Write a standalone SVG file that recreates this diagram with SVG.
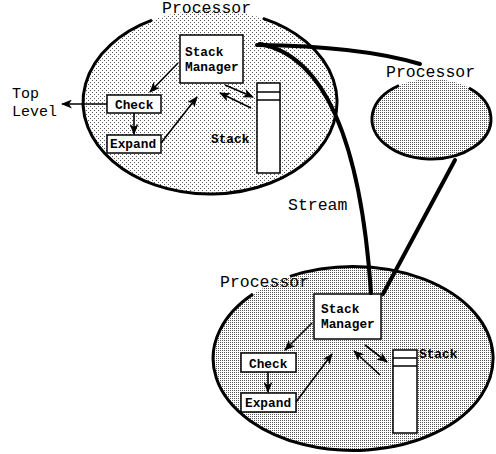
<svg xmlns="http://www.w3.org/2000/svg" width="496" height="454" viewBox="0 0 496 454">
<defs>
<style>
.lbl{font-family:"Liberation Mono","DejaVu Sans Mono",monospace;font-size:16.5px;fill:#000}
.lbs{font-family:"Liberation Mono","DejaVu Sans Mono",monospace;font-size:15px;fill:#000}
.bx{font-family:"Liberation Mono","DejaVu Sans Mono",monospace;font-size:12.8px;font-weight:bold;fill:#000}
.box{fill:#fff;stroke:#000;stroke-width:1.5}
.outline{fill:none;stroke:#000;stroke-width:3}
.arr{fill:none;stroke:#000;stroke-width:1.6;marker-end:url(#ah)}
.thick{fill:none;stroke:#000;stroke-width:4;stroke-linecap:round}
</style>
<pattern id="pLight" width="4" height="4" patternUnits="userSpaceOnUse">
<rect width="4" height="4" fill="#fff"/>
<rect x="0" y="0" width="1" height="1" fill="#555"/>
<rect x="2" y="2" width="1" height="1" fill="#555"/>
</pattern>
<pattern id="pDark" width="2" height="2" patternUnits="userSpaceOnUse">
<rect width="2" height="2" fill="#fff"/>
<rect x="0" y="0" width="1" height="1" fill="#555"/>
</pattern>
<marker id="ah" markerWidth="11" markerHeight="9" refX="10" refY="4.5" orient="auto" markerUnits="userSpaceOnUse">
<path d="M0,0 L11,4.5 L0,9 L3,4.5 z" fill="#000"/>
</marker>
</defs>

<g id="processor-top">
<ellipse cx="210" cy="102" rx="127" ry="92" fill="url(#pLight)"/>
<path class="outline" d="M 263 18.4 A 127 92 0 1 1 152 20.2"/>
<text class="lbl" x="162" y="13">Processor</text>
</g>

<g id="processor-right">
<ellipse cx="431.5" cy="119" rx="59.5" ry="40" fill="url(#pDark)"/>
<path class="outline" d="M 469 88 A 59.5 40 0 1 1 399 85.5"/>
<text class="lbl" x="386" y="77">Processor</text>
</g>

<g id="processor-bottom">
<ellipse cx="353" cy="358.5" rx="140" ry="92" fill="url(#pDark)"/>
<path class="outline" d="M 290 276.3 A 140 92 0 1 1 253 294.1"/>
<text class="lbl" x="220" y="287">Processor</text>
</g>

<g id="top-level">
<text class="lbs" x="12" y="98">Top</text>
<text class="lbs" x="12" y="116">Level</text>
</g>

<g id="stack-manager-top">
<rect class="box" x="180" y="35" width="63" height="48"/>
<text class="bx" x="185" y="56">Stack</text>
<text class="bx" x="185" y="71">Manager</text>
</g>
<g id="check-top">
<rect class="box" x="107" y="95" width="54" height="18"/>
<text class="bx" x="115" y="108.5">Check</text>
</g>
<g id="expand-top">
<rect class="box" x="107" y="135" width="54" height="18"/>
<text class="bx" x="110" y="148">Expand</text>
</g>
<g id="stack-top">
<rect class="box" x="257" y="83" width="23" height="90"/>
<line x1="257" y1="92" x2="280" y2="92" stroke="#000" stroke-width="1.5"/>
<line x1="257" y1="100" x2="280" y2="100" stroke="#000" stroke-width="1.5"/>
<text class="bx" x="211" y="143">Stack</text>
</g>

<g id="stack-manager-bottom">
<rect class="box" x="314" y="294" width="67" height="45"/>
<text class="bx" x="321" y="313">Stack</text>
<text class="bx" x="321" y="328">Manager</text>
</g>
<g id="check-bottom">
<rect class="box" x="241" y="353" width="55" height="19"/>
<text class="bx" x="249" y="367.5">Check</text>
</g>
<g id="expand-bottom">
<rect class="box" x="241" y="393" width="55" height="19"/>
<text class="bx" x="245" y="407">Expand</text>
</g>
<g id="stack-bottom">
<rect class="box" x="393" y="350" width="24" height="83"/>
<line x1="393" y1="358" x2="417" y2="358" stroke="#000" stroke-width="1.5"/>
<line x1="393" y1="366" x2="417" y2="366" stroke="#000" stroke-width="1.5"/>
<text class="bx" x="419" y="358">Stack</text>
</g>

<g id="stream-label">
<text class="lbl" x="288" y="210">Stream</text>
</g>

<g id="connectors">
<path class="arr" d="M 107 104 L 62 104"/>
<path class="arr" d="M 178 63 L 150 92"/>
<path class="arr" d="M 134 113 L 134 134"/>
<path class="arr" d="M 161 143 L 197 97"/>
<path class="arr" d="M 225 85 L 253 97"/>
<path class="arr" d="M 251 108 L 220 93"/>

<path class="arr" d="M 312 323 L 285 350"/>
<path class="arr" d="M 268 372 L 268 392"/>
<path class="arr" d="M 296 402 L 332 354"/>
<path class="arr" d="M 365 345 L 387 362"/>
<path class="arr" d="M 380 375 L 354 351"/>

<path class="thick" d="M 257 45 Q 360 46 420 64"/>
<path class="thick" d="M 260 44 C 320 55 360 130 371 293"/>
<path class="thick" d="M 455 160 L 383 294"/>
</g>
</svg>
